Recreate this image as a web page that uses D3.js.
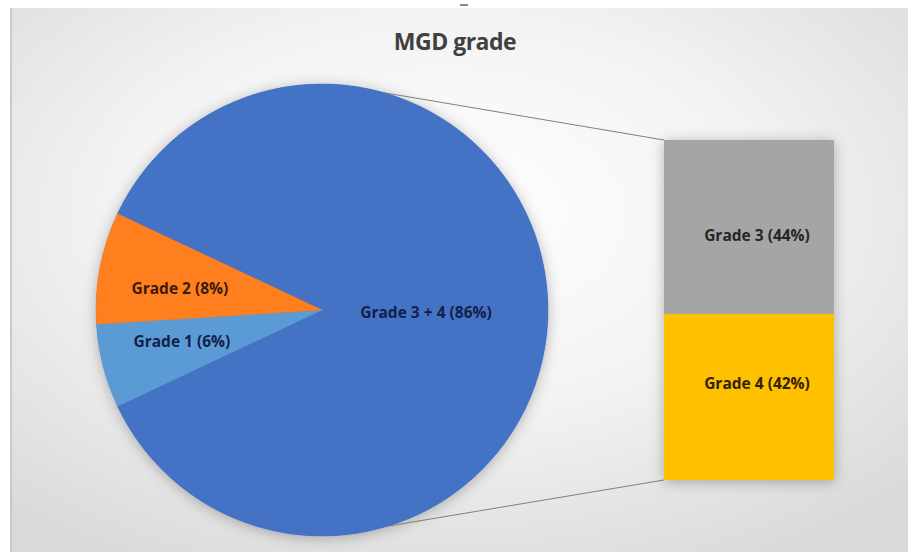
<!DOCTYPE html>
<html>
<head>
<meta charset="utf-8">
<script src="https://cdn.jsdelivr.net/npm/d3@7"></script>
<style>
html,body{margin:0;padding:0;background:#fff;}
svg{display:block;}
</style>
</head>
<body>
<svg id="chart" width="908" height="552"></svg>
<script>
// ---- data ----
const title = "MGD grade";
const pieCategories = ["Grade 3 + 4", "Grade 1", "Grade 2"];
const pieValues = [86, 6, 8];
const pieColors = ["#4472C4", "#5B9BD5", "#FF7F1F"];
const barCategories = ["Grade 3", "Grade 4"];
const barValues = [44, 42];
const barColors = ["#A5A5A5", "#FFC000"];

const svg = d3.select("#chart");
const W = 908, H = 552;

const defs = svg.append("defs");
const bg = defs.append("radialGradient").attr("id", "bg")
  .attr("cx", "0.48").attr("cy", "0.38").attr("r", "0.72");
bg.append("stop").attr("offset", "0").attr("stop-color", "#ffffff");
bg.append("stop").attr("offset", "0.5").attr("stop-color", "#f3f3f3");
bg.append("stop").attr("offset", "1").attr("stop-color", "#dadada");

const sh = defs.append("filter").attr("id", "shadow")
  .attr("x", "-20%").attr("y", "-20%").attr("width", "140%").attr("height", "140%");
sh.append("feDropShadow").attr("dx", 0).attr("dy", 2).attr("stdDeviation", 7)
  .attr("flood-color", "#000").attr("flood-opacity", 0.28);

svg.append("rect").attr("width", W).attr("height", H).attr("fill", "#fff");
svg.append("rect").attr("x", 11).attr("y", 8).attr("width", W - 11).attr("height", H - 8)
  .attr("fill", "url(#bg)");
svg.append("line").attr("x1", 11).attr("x2", 11).attr("y1", 8).attr("y2", H)
  .attr("stroke", "#bdbdbd").attr("stroke-width", 1.5);
svg.append("line").attr("x1", 460).attr("x2", 468).attr("y1", 5).attr("y2", 5)
  .attr("stroke", "#888").attr("stroke-width", 2);

// title
svg.append("text").attr("x", 455).attr("y", 50).attr("text-anchor", "middle")
  .attr("font-family", "'Open Sans', 'Liberation Sans', sans-serif")
  .attr("font-weight", "bold").attr("font-size", 23).attr("fill", "#404040")
  .attr("letter-spacing", "-0.5")
  .text(title);

// ---- pie ----
const cx = 322, cy = 310, R = 226;
const blueShare = pieValues[0] / d3.sum(pieValues);
const start = Math.PI / 2 - blueShare * Math.PI;
const pie = d3.pie().sort(null).value(d => d).startAngle(start).endAngle(start + 2 * Math.PI);
const arcs = pie(pieValues);
const arc = d3.arc().innerRadius(0).outerRadius(R);

const gPie = svg.append("g").attr("transform", `translate(${cx},${cy})`);
gPie.append("circle").attr("r", R).attr("fill", "#4472C4").attr("filter", "url(#shadow)");
gPie.selectAll("path").data(arcs).join("path")
  .attr("d", arc).attr("fill", (d, i) => pieColors[i])
  .attr("stroke", (d, i) => pieColors[i]).attr("stroke-width", 0.5);

// ---- bar of pie ----
const barX0 = 664, barW = 170;
const y = d3.scaleLinear().domain([0, d3.sum(barValues)]).range([140, 480]);
const stacks = [];
let acc = 0;
barValues.forEach((v, i) => { stacks.push({ name: barCategories[i], v, y0: acc, y1: acc + v }); acc += v; });

const gBar = svg.append("g");
gBar.append("rect").attr("x", barX0).attr("y", y(0)).attr("width", barW)
  .attr("height", y(acc) - y(0)).attr("fill", "#ccc").attr("filter", "url(#shadow)");
gBar.selectAll("rect.seg").data(stacks).join("rect").attr("class", "seg")
  .attr("x", barX0).attr("y", d => y(d.y0)).attr("width", barW)
  .attr("height", d => y(d.y1) - y(d.y0)).attr("fill", (d, i) => barColors[i]);

// connector lines
const topAng = 16 * Math.PI / 180, botAng = 163 * Math.PI / 180;
const pt = a => [cx + R * Math.sin(a), cy - R * Math.cos(a)];
const pTop = pt(topAng), pBot = pt(botAng);
svg.append("line").attr("x1", pTop[0]).attr("y1", pTop[1]).attr("x2", barX0).attr("y2", y(0))
  .attr("stroke", "#7f7f7f").attr("stroke-width", 1);
svg.append("line").attr("x1", pBot[0]).attr("y1", pBot[1]).attr("x2", barX0).attr("y2", y(acc))
  .attr("stroke", "#7f7f7f").attr("stroke-width", 1);

// ---- labels ----
const labelFont = "'Open Sans', 'Liberation Sans', sans-serif";
const pct = v => `(${v}%)`;
function label(x, yy, txt, col) {
  svg.append("text").attr("x", x).attr("y", yy).attr("text-anchor", "middle")
    .attr("dominant-baseline", "central")
    .attr("font-family", labelFont).attr("font-weight", "bold").attr("font-size", 15.5)
    .attr("letter-spacing", "0")
    .attr("fill", col).text(txt);
}
const labelR = [0.46, 0.64, 0.64];
const labelDy = [0, -5, 5];
arcs.forEach((d, i) => {
  const a = (d.startAngle + d.endAngle) / 2;
  let lx, ly;
  if (i === 0) { lx = cx + 104; ly = cy + 2; }
  else { lx = cx + R * labelR[i] * Math.sin(a); ly = cy - R * labelR[i] * Math.cos(a) + labelDy[i]; }
  const col = i === 2 ? "#3a1a08" : "#13204a";
  label(lx, ly, `${pieCategories[i]} ${pct(pieValues[i])}`, col);
});
stacks.forEach((d, i) => {
  label(barX0 + 93, (y(d.y0) + y(d.y1)) / 2 + (i === 0 ? 8 : -14), `${d.name} ${pct(d.v)}`, i === 0 ? "#262626" : "#332200");
});
</script>
</body>
</html>
